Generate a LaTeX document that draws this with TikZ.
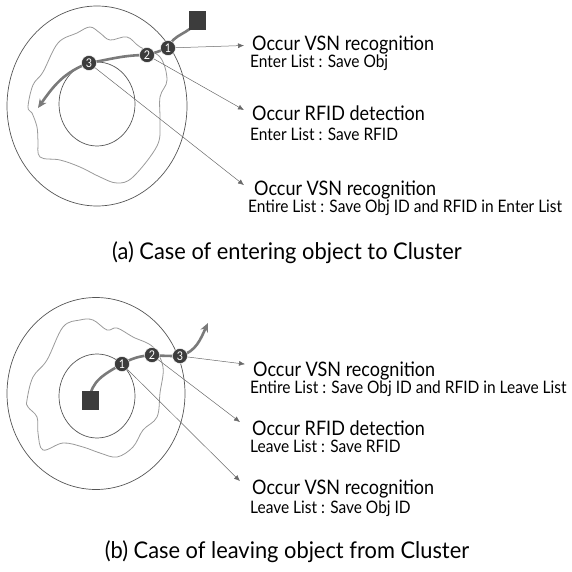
\documentclass[tikz,border=0pt]{standalone}
\usepackage{fontspec}
\setmainfont[FakeStretch=0.9]{Lato}
\newfontfamily\captfont[FakeStretch=0.95]{Lato}
\usetikzlibrary{arrows.meta}

\definecolor{ringgray}{HTML}{555555}
\definecolor{wavegray}{HTML}{9A9A9A}
\definecolor{trackgray}{HTML}{7A7A7A}
\definecolor{spotgray}{HTML}{3C3C3C}
\definecolor{linkgray}{HTML}{6A6A6A}

\begin{document}
\begin{tikzpicture}[x=1pt,y=1pt,
    ring/.style={draw=ringgray,line width=0.7pt},
    wave/.style={draw=wavegray,line width=0.8pt},
    track/.style={draw=trackgray,line width=2.6pt,line cap=round,
      -{Stealth[length=9pt,width=8pt]}},
    spot/.style={circle,fill=spotgray,draw=white,line width=0.4pt,
      inner sep=0pt,minimum size=15pt,text=white,
      font=\fontsize{12}{12}\selectfont},
    obj/.style={fill=spotgray,minimum width=17pt,minimum height=19pt,inner sep=0pt},
    link/.style={draw=linkgray,line width=0.5pt,-{Latex[length=6pt,width=5pt]}},
    head/.style={anchor=base west,inner sep=0pt,font=\fontsize{20}{20}\selectfont},
    info/.style={anchor=base west,inner sep=0pt,font=\fontsize{17.2}{17.2}\selectfont},
    capt/.style={inner sep=0pt,font=\captfont\fontsize{23}{23}\selectfont}]
  \useasboundingbox (0,0) rectangle (572,571);

  % ---------------- (a) entering ----------------
  % Regiones
  \draw[ring] (97,465) ellipse [x radius=90,y radius=100];
  \draw[ring] (97,467) ellipse [x radius=38,y radius=42];
  \draw[wave] plot[smooth cycle,tension=0.6] coordinates {
    (28,464) (33,486) (43,499) (58,528) (77,538) (90,544) (100,538)
    (110,531) (127,534) (140,524) (160,514) (167,491) (160,474)
    (160,448) (157,425) (133,394) (117,388) (100,394) (80,404)
    (60,411) (40,414) (38,430) (37,444) (32,458)};

  % Trayectoria
  \coordinate (sa) at (197,550);
  \coordinate (ca1) at (168,523);
  \coordinate (ca2) at (147,516);
  \coordinate (ca3) at (89,508);
  \coordinate (ea) at (38,463);
  \draw[track] (sa) to[out=240,in=70] (ca1) to[out=200,in=15] (ca2)
    to[out=180,in=10] (ca3) to[out=200,in=55] (ea);
  \node[obj] (oa) at (sa) {};
  \node[spot] (pa1) at (ca1) {1};
  \node[spot] (pa2) at (ca2) {2};
  \node[spot] (pa3) at (ca3) {3};

  % Textos
  \node[head] (ha1) at (252,520) {Occur VSN recognition};
  \node[info] (da1) at (250,503) {Enter List : Save Obj};
  \node[head] (ha2) at (252,450) {Occur RFID detection};
  \node[info] (da2) at (250,430) {Enter List : Save RFID};
  \node[head] (ha3) at (254,375) {Occur VSN recognition};
  \node[info] (da3) at (248,358) {Entire List : Save Obj ID and RFID in Enter List};

  % Flechas
  \draw[link] (pa1) -- ([xshift=-8pt]ha1.west);
  \draw[link] (pa2) -- ([xshift=-8pt,yshift=-4pt]ha2.north west);
  \draw[link] (pa3) -- ([xshift=-10pt,yshift=-4pt]ha3.north west);

  \node[capt] (capa) at (287,318) {(a) Case of entering object to Cluster};

  % ---------------- (b) leaving ----------------
  % Regiones
  \draw[ring] (96,177.5) ellipse [x radius=89,y radius=96];
  \draw[ring] (97,175) ellipse [x radius=38,y radius=42];
  \draw[wave] plot[smooth cycle,tension=0.6] coordinates {
    (27,171) (33,194) (47,211) (63,244) (80,251) (93,251) (107,241)
    (117,243) (133,234) (153,224) (163,204) (160,178) (157,154)
    (143,141) (133,124) (117,114) (100,118) (83,124) (63,128)
    (43,121) (38,138) (37,154) (28,164)};

  % Trayectoria
  \coordinate (sb) at (90,171);
  \coordinate (cb1) at (122,207);
  \coordinate (cb2) at (152,216);
  \coordinate (cb3) at (180,215);
  \coordinate (eb) at (208,248);
  \draw[track] (sb) to[out=90,in=210] (cb1) to[out=30,in=185] (cb2)
    to[out=-5,in=180] (cb3) to[out=15,in=245] (eb);
  \node[obj] (ob) at (sb) {};
  \node[spot] (pb1) at (cb1) {1};
  \node[spot] (pb2) at (cb2) {2};
  \node[spot] (pb3) at (cb3) {3};

  % Textos
  \node[head] (hb1) at (253,195) {Occur VSN recognition};
  \node[info] (db1) at (250,178) {Entire List : Save Obj ID and RFID in Leave List};
  \node[head] (hb2) at (252,136) {Occur RFID detection};
  \node[info] (db2) at (250,119) {Leave List : Save RFID};
  \node[head] (hb3) at (252,77) {Occur VSN recognition};
  \node[info] (db3) at (250,58) {Leave List : Save Obj ID};

  % Flechas
  \draw[link] (pb3) -- ([xshift=-8pt,yshift=-3pt]hb1.north west);
  \draw[link] (pb2) -- ([xshift=-12pt,yshift=-2pt]hb2.north west);
  \draw[link] (pb1) -- ([xshift=-12pt,yshift=-2pt]hb3.north west);

  \node[capt] (capb) at (287,19) {(b) Case of leaving object from Cluster};
\end{tikzpicture}
\end{document}
